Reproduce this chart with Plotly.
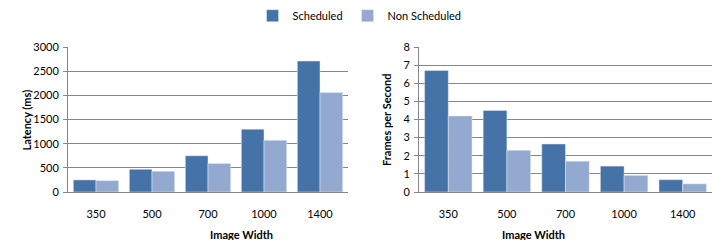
import plotly.graph_objects as go

categories = ["350", "500", "700", "1000", "1400"]
latency_scheduled = [250, 470, 750, 1300, 2710]
latency_non_scheduled = [235, 430, 590, 1070, 2060]
fps_scheduled = [6.7, 4.5, 2.65, 1.43, 0.68]
fps_non_scheduled = [4.2, 2.3, 1.7, 0.92, 0.45]

c_s = "#4572A7"
c_n = "#93A9CF"
font = "Lato, Open Sans, sans-serif"

fig = go.Figure()
fig.add_trace(go.Bar(x=categories, y=latency_scheduled, name="Scheduled", marker_color=c_s,
                     xaxis="x", yaxis="y", legendgroup="s"))
fig.add_trace(go.Bar(x=categories, y=latency_non_scheduled, name="Non Scheduled", marker_color=c_n,
                     xaxis="x", yaxis="y", legendgroup="n"))
fig.add_trace(go.Bar(x=categories, y=fps_scheduled, name="Scheduled", marker_color=c_s,
                     xaxis="x2", yaxis="y2", showlegend=False, legendgroup="s"))
fig.add_trace(go.Bar(x=categories, y=fps_non_scheduled, name="Non Scheduled", marker_color=c_n,
                     xaxis="x2", yaxis="y2", showlegend=False, legendgroup="n"))

ydom = [48/240, 193/240]
axis_common = dict(showline=True, linecolor="#868686", linewidth=1,
                   tickfont=dict(family=font, size=11, color="#000"))
fig.update_layout(
    width=712, height=240,
    margin=dict(l=0, r=0, t=0, b=0, autoexpand=False),
    paper_bgcolor="white", plot_bgcolor="white",
    barmode="group", bargap=0.19, bargroupgap=0,
    font=dict(family=font, size=11, color="#000"),
    legend=dict(orientation="h", x=0.505, xanchor="center", y=0.995, yanchor="top",
                font=dict(family=font, size=11), itemwidth=30, tracegroupgap=0,
                bgcolor="rgba(0,0,0,0)"),
    xaxis=dict(domain=[68/712, 348/712], anchor="y", ticks="", ticklabelstandoff=12, **axis_common),
    yaxis=dict(domain=ydom, anchor="x", range=[0, 3000], dtick=500, showgrid=True,
               gridcolor="#868686", gridwidth=1, ticks="outside", ticklen=4, tickcolor="#868686",
               ticklabelstandoff=2, zeroline=False, **axis_common),
    xaxis2=dict(domain=[419/712, 1.0], anchor="y2", ticks="", ticklabelstandoff=12, **axis_common),
    yaxis2=dict(domain=ydom, anchor="x2", range=[0, 8], dtick=1, showgrid=True,
                gridcolor="#868686", gridwidth=1, ticks="outside", ticklen=4, tickcolor="#868686",
                ticklabelstandoff=2, zeroline=False, **axis_common),
    annotations=[
        dict(text="<b>Image Width</b>", x=208/712, y=(240-234)/240, yanchor="middle",
             xref="paper", yref="paper", showarrow=False, font=dict(family=font, size=11)),
        dict(text="<b>Latency (ms)</b>", x=17/712, y=(240-120)/240, xref="paper", yref="paper",
             textangle=-90, showarrow=False, font=dict(family=font, size=11)),
        dict(text="<b>Image Width</b>", x=567/712, y=(240-234)/240, yanchor="middle",
             xref="paper", yref="paper", showarrow=False, font=dict(family=font, size=11)),
        dict(text="<b>Frames per Second</b>", x=386/712, y=(240-120)/240, xref="paper", yref="paper",
             textangle=-90, showarrow=False, font=dict(family=font, size=11)),
    ],
)

fig.write_html("out.html", config={"displayModeBar": False},
               post_script="document.body.style.margin='0';document.body.style.overflow='hidden';")
